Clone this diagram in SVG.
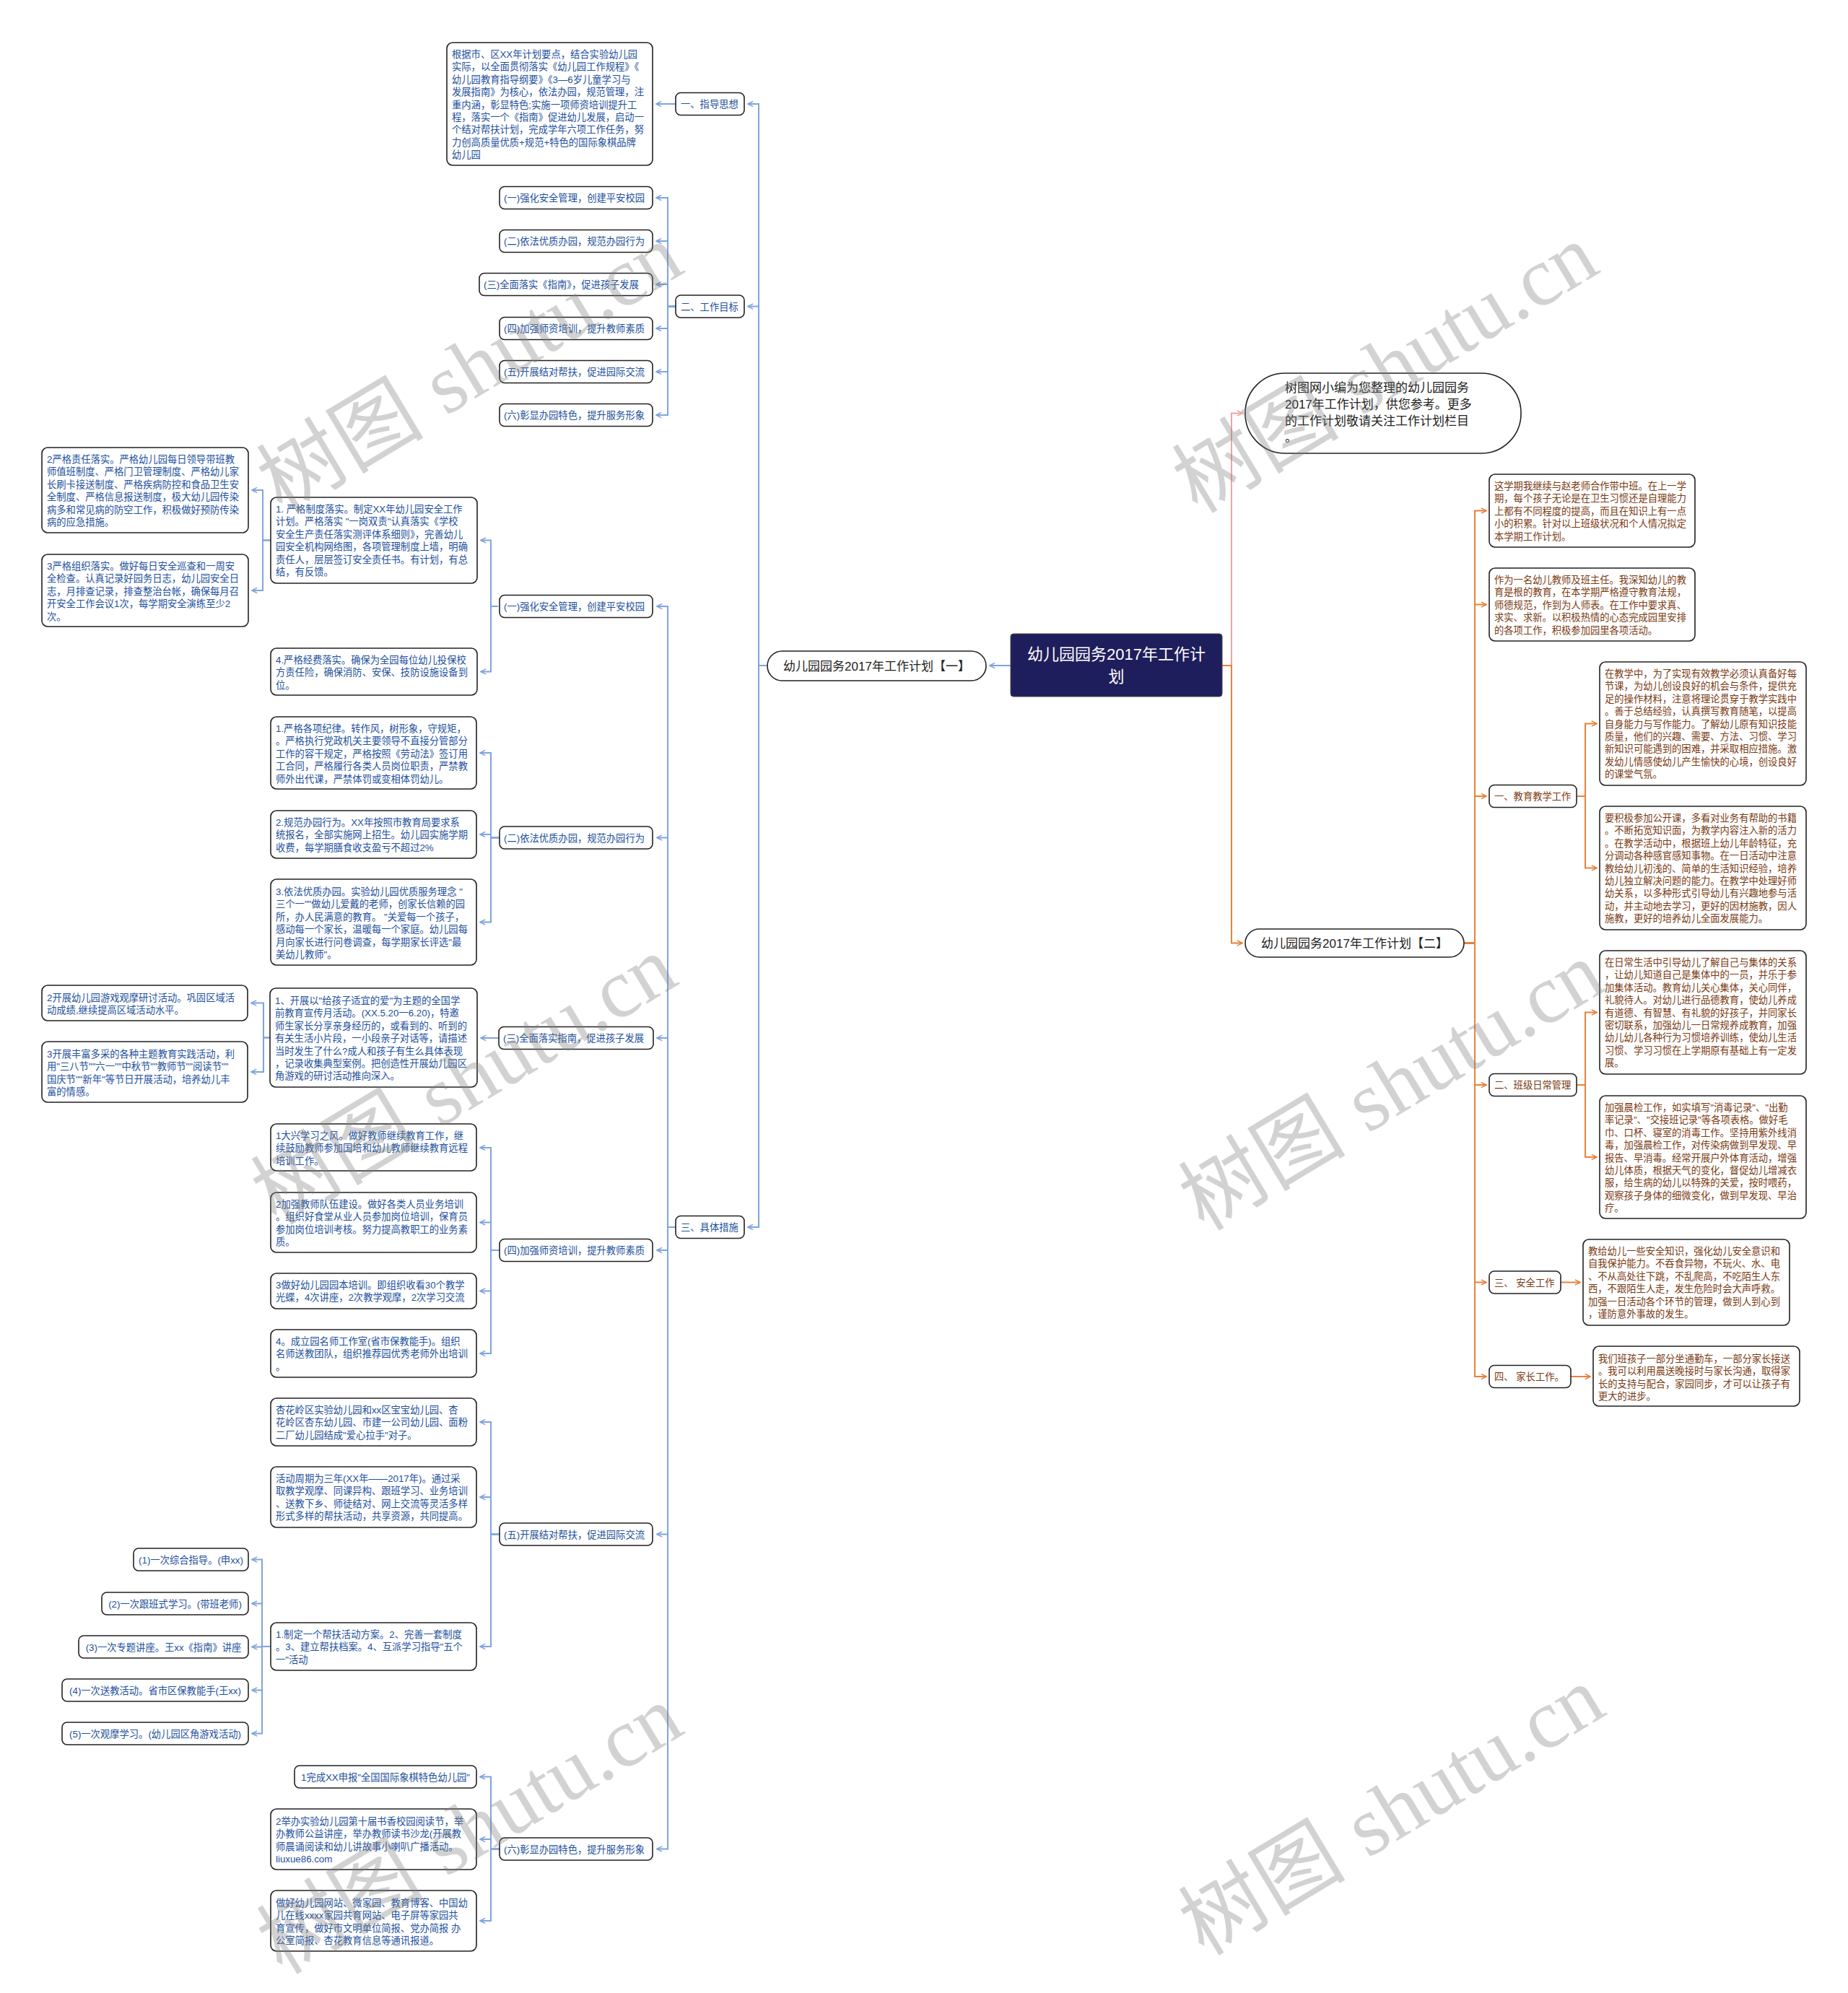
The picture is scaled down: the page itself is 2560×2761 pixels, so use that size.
<svg xmlns="http://www.w3.org/2000/svg" width="2560" height="2761" viewBox="0 0 2560 2761">
<defs>
<style>
text{font-family:"Liberation Sans","Noto Sans CJK SC",sans-serif}
.bx{fill:#fff;stroke:#222;stroke-width:1.6}
.tb{fill:#22509c;font-size:13.3px}
.tr{fill:#7a3a12;font-size:13.3px}
.lb{fill:none;stroke:#80a4dc;stroke-width:2;marker-end:url(#ab)}
.lo{fill:none;stroke:#e8823a;stroke-width:2;marker-end:url(#ao)}
.lp{fill:none;stroke:#f2a2a2;stroke-width:2;marker-end:url(#ap)}
.wm{font-size:116px;fill:#808080;opacity:0.35}
.wm tspan.l{font-family:"Liberation Serif",serif}
</style>
<marker id="ab" viewBox="0 0 10 10" refX="9" refY="5" markerWidth="9" markerHeight="9" markerUnits="userSpaceOnUse" orient="auto"><path d="M1,1 L9,5 L1,9" fill="none" stroke="#80a4dc" stroke-width="1.8"/></marker>
<marker id="ao" viewBox="0 0 10 10" refX="9" refY="5" markerWidth="9" markerHeight="9" markerUnits="userSpaceOnUse" orient="auto"><path d="M1,1 L9,5 L1,9" fill="none" stroke="#e8823a" stroke-width="1.8"/></marker>
<marker id="ap" viewBox="0 0 10 10" refX="9" refY="5" markerWidth="9" markerHeight="9" markerUnits="userSpaceOnUse" orient="auto"><path d="M1,1 L9,5 L1,9" fill="none" stroke="#f2a2a2" stroke-width="1.8"/></marker>
</defs>
<rect width="2560" height="2761" fill="#fff"/>

<g id="connectors">
<path class="lb" d="M1400,922 H1371"/>
<path class="lb" d="M1063,922 H1051 V144 H1036"/>
<path class="lb" d="M1063,922 H1051 V424.5 H1036"/>
<path class="lb" d="M1063,922 H1051 V1700 H1036"/>
<path class="lb" d="M936,144 H909"/>
<path class="lb" d="M936,424.5 H925 V274 H909"/>
<path class="lb" d="M936,424.5 H925 V334 H909"/>
<path class="lb" d="M936,424.5 H925 V394 H909"/>
<path class="lb" d="M936,424.5 H925 V455 H909"/>
<path class="lb" d="M936,424.5 H925 V515 H909"/>
<path class="lb" d="M936,424.5 H925 V575 H909"/>
<path class="lb" d="M936,1700 H925 V840 H910"/>
<path class="lb" d="M936,1700 H925 V1160.5 H910"/>
<path class="lb" d="M936,1700 H925 V1438 H910"/>
<path class="lb" d="M936,1700 H925 V1732 H910"/>
<path class="lb" d="M936,1700 H925 V2125.5 H910"/>
<path class="lb" d="M936,1700 H925 V2561.5 H910"/>
<path class="lb" d="M690,840 H680 V748.5 H666"/>
<path class="lb" d="M690,840 H680 V930.5 H666"/>
<path class="lb" d="M375,748.5 H364 V679 H349"/>
<path class="lb" d="M375,748.5 H364 V818 H349"/>
<path class="lb" d="M692,1160.5 H680 V1043 H665"/>
<path class="lb" d="M692,1160.5 H680 V1156 H665"/>
<path class="lb" d="M692,1160.5 H680 V1277.5 H665"/>
<path class="lb" d="M691,1438 H666"/>
<path class="lb" d="M374,1437.5 H365 V1389.5 H348"/>
<path class="lb" d="M374,1437.5 H365 V1485 H348"/>
<path class="lb" d="M692,1732 H680 V1590 H665"/>
<path class="lb" d="M692,1732 H680 V1693.5 H665"/>
<path class="lb" d="M692,1732 H680 V1788.5 H665"/>
<path class="lb" d="M692,1732 H680 V1875 H665"/>
<path class="lb" d="M692,2125.5 H680 V1970 H665"/>
<path class="lb" d="M692,2125.5 H680 V2074 H665"/>
<path class="lb" d="M692,2125.5 H680 V2281 H665"/>
<path class="lb" d="M375,2281 H363 V2160.5 H349"/>
<path class="lb" d="M375,2281 H363 V2221.5 H349"/>
<path class="lb" d="M375,2281 H363 V2281.5 H349"/>
<path class="lb" d="M375,2281 H363 V2341.5 H349"/>
<path class="lb" d="M375,2281 H363 V2401.5 H349"/>
<path class="lb" d="M692,2561.5 H680 V2461.5 H665"/>
<path class="lb" d="M692,2561.5 H680 V2548 H665"/>
<path class="lb" d="M692,2561.5 H680 V2661 H665"/>

<path class="lp" d="M1693,922 H1706 V572.5 H1721"/>
<path class="lo" d="M1693,922 H1706 V1306.5 H1721"/>
<path class="lo" d="M2028,1306.5 H2043 V707.5 H2059"/>
<path class="lo" d="M2028,1306.5 H2043 V837.5 H2059"/>
<path class="lo" d="M2028,1306.5 H2043 V1103 H2059"/>
<path class="lo" d="M2028,1306.5 H2043 V1503 H2059"/>
<path class="lo" d="M2028,1306.5 H2043 V1776.5 H2059"/>
<path class="lo" d="M2028,1306.5 H2043 V1907 H2059"/>
<path class="lo" d="M2184,1103 H2196 V1002.5 H2212"/>
<path class="lo" d="M2184,1103 H2196 V1202.5 H2212"/>
<path class="lo" d="M2184,1503 H2196 V1402.5 H2212"/>
<path class="lo" d="M2184,1503 H2196 V1603 H2212"/>
<path class="lo" d="M2162,1776.5 H2189"/>
<path class="lo" d="M2176,1907 H2203"/>
</g>

<g id="root">
<rect x="1400" y="878" width="293" height="87" rx="4" fill="#1f1e5c" stroke="#444" stroke-width="1"/>
<text x="1546.5" y="914" text-anchor="middle" fill="#fff" font-size="22">幼儿园园务2017年工作计</text>
<text x="1546.5" y="945" text-anchor="middle" fill="#fff" font-size="22">划</text>
</g>

<g id="plan1">
<rect class="bx" x="1063" y="902" width="303" height="41" rx="20.5"/>
<text x="1214.5" y="928.5" text-anchor="middle" fill="#222" font-size="17">幼儿园园务2017年工作计划【一】</text>
</g>

<g id="plan2">
<rect class="bx" x="1725" y="1287" width="303" height="39" rx="19.5"/>
<text x="1876.5" y="1312.5" text-anchor="middle" fill="#222" font-size="17">幼儿园园务2017年工作计划【二】</text>
</g>

<g id="note">
<rect class="bx" x="1725" y="517" width="382" height="111" rx="55"/>
<text fill="#222" font-size="17"><tspan x="1780" y="543">树图网小编为您整理的幼儿园园务</tspan><tspan x="1780" y="566">2017年工作计划，供您参考。更多</tspan><tspan x="1780" y="589">的工作计划敬请关注工作计划栏目</tspan><tspan x="1780" y="612">。</tspan></text>
</g>

<g id="s1">
<rect class="bx" x="936" y="128.5" width="95" height="31" rx="7"/>
<text class="tb" x="943" y="149">一、指导思想</text>
</g>
<g id="s1-text">
<rect class="bx" x="619" y="59" width="285" height="170" rx="8"/>
<text class="tb"><tspan x="626" y="80">根据市、区XX年计划要点，结合实验幼儿园</tspan><tspan x="626" y="97.4">实际，以全面贯彻落实《幼儿园工作规程》《</tspan><tspan x="626" y="114.8">幼儿园教育指导纲要》《3—6岁儿童学习与</tspan><tspan x="626" y="132.2">发展指南》为核心，依法办园，规范管理，注</tspan><tspan x="626" y="149.6">重内涵，彰显特色;实施一项师资培训提升工</tspan><tspan x="626" y="167">程，落实一个《指南》促进幼儿发展，启动一</tspan><tspan x="626" y="184.4">个结对帮扶计划，完成学年六项工作任务，努</tspan><tspan x="626" y="201.8">力创高质量优质+规范+特色的国际象棋品牌</tspan><tspan x="626" y="219.2">幼儿园</tspan></text>
</g>

<g id="s2">
<rect class="bx" x="936" y="409" width="95" height="31" rx="7"/>
<text class="tb" x="943" y="429.5">二、工作目标</text>
</g>
<g id="g1"><rect class="bx" x="692" y="258.5" width="212" height="31" rx="7"/><text class="tb" x="698" y="279">(一)强化安全管理，创建平安校园</text></g>
<g id="g2"><rect class="bx" x="692" y="318.5" width="212" height="31" rx="7"/><text class="tb" x="698" y="339">(二)依法优质办园，规范办园行为</text></g>
<g id="g3"><rect class="bx" x="664" y="378.5" width="240" height="31" rx="7"/><text class="tb" x="670" y="399">(三)全面落实《指南》，促进孩子发展</text></g>
<g id="g4"><rect class="bx" x="692" y="439.5" width="212" height="31" rx="7"/><text class="tb" x="698" y="460">(四)加强师资培训，提升教师素质</text></g>
<g id="g5"><rect class="bx" x="692" y="499.5" width="212" height="31" rx="7"/><text class="tb" x="698" y="520">(五)开展结对帮扶，促进园际交流</text></g>
<g id="g6"><rect class="bx" x="692" y="559.5" width="212" height="31" rx="7"/><text class="tb" x="698" y="580">(六)彰显办园特色，提升服务形象</text></g>

<g id="s3">
<rect class="bx" x="936" y="1684.5" width="95" height="31" rx="7"/>
<text class="tb" x="943" y="1705">三、具体措施</text>
</g>

<g id="m1"><rect class="bx" x="692" y="824.5" width="212" height="31" rx="7"/><text class="tb" x="698" y="845">(一)强化安全管理，创建平安校园</text></g>
<g id="m1a">
<rect class="bx" x="375" y="689" width="286" height="119" rx="8"/>
<text class="tb"><tspan x="382" y="710">1. 严格制度落实。制定XX年幼儿园安全工作</tspan><tspan x="382" y="727.4">计划。严格落实 "一岗双责"认真落实《学校</tspan><tspan x="382" y="744.8">安全生产责任落实测评体系细则》，完善幼儿</tspan><tspan x="382" y="762.2">园安全机构网络图，各项管理制度上墙，明确</tspan><tspan x="382" y="779.6">责任人，层层签订安全责任书。有计划，有总</tspan><tspan x="382" y="797">结，有反馈。</tspan></text>
</g>
<g id="m1a1">
<rect class="bx" x="58" y="620" width="286" height="118" rx="8"/>
<text class="tb"><tspan x="65" y="641">2严格责任落实。严格幼儿园每日领导带班教</tspan><tspan x="65" y="658.4">师值班制度、严格门卫管理制度、严格幼儿家</tspan><tspan x="65" y="675.8">长刷卡接送制度、严格疾病防控和食品卫生安</tspan><tspan x="65" y="693.2">全制度、严格信息报送制度，极大幼儿园传染</tspan><tspan x="65" y="710.6">病多和常见病的防空工作，积极做好预防传染</tspan><tspan x="65" y="728">病的应急措施。</tspan></text>
</g>
<g id="m1a2">
<rect class="bx" x="58" y="768" width="286" height="100" rx="8"/>
<text class="tb"><tspan x="65" y="789">3严格组织落实。做好每日安全巡查和一周安</tspan><tspan x="65" y="806.4">全检查。认真记录好园务日志，幼儿园安全日</tspan><tspan x="65" y="823.8">志，月排查记录，排查整治台帐，确保每月召</tspan><tspan x="65" y="841.2">开安全工作会议1次，每学期安全演练至少2</tspan><tspan x="65" y="858.6">次。</tspan></text>
</g>
<g id="m1b">
<rect class="bx" x="375" y="898" width="286" height="65" rx="8"/>
<text class="tb"><tspan x="382" y="919">4.严格经费落实。确保为全园每位幼儿投保校</tspan><tspan x="382" y="936.4">方责任险，确保消防、安保、技防设施设备到</tspan><tspan x="382" y="953.8">位。</tspan></text>
</g>

<g id="m2"><rect class="bx" x="692" y="1145" width="212" height="31" rx="7"/><text class="tb" x="698" y="1165.5">(二)依法优质办园，规范办园行为</text></g>
<g id="m2a">
<rect class="bx" x="375" y="993" width="285" height="100" rx="8"/>
<text class="tb"><tspan x="382" y="1014">1.严格各项纪律。转作风，树形象，守规矩，</tspan><tspan x="382" y="1031.4">。严格执行党政机关主要领导不直接分管部分</tspan><tspan x="382" y="1048.8">工作的容干规定，严格按照《劳动法》签订用</tspan><tspan x="382" y="1066.2">工合同，严格履行各类人员岗位职责，严禁教</tspan><tspan x="382" y="1083.6">师外出代课，严禁体罚或变相体罚幼儿。</tspan></text>
</g>
<g id="m2b">
<rect class="bx" x="375" y="1123" width="285" height="66" rx="8"/>
<text class="tb"><tspan x="382" y="1144">2.规范办园行为。XX年按照市教育局要求系</tspan><tspan x="382" y="1161.4">统报名，全部实施网上招生。幼儿园实施学期</tspan><tspan x="382" y="1178.8">收费，每学期膳食收支盈亏不超过2%</tspan></text>
</g>
<g id="m2c">
<rect class="bx" x="375" y="1218" width="285" height="119" rx="8"/>
<text class="tb"><tspan x="382" y="1240">3.依法优质办园。实验幼儿园优质服务理念 "</tspan><tspan x="382" y="1257.4">三个一""做幼儿爱戴的老师，创家长信赖的园</tspan><tspan x="382" y="1274.8">所，办人民满意的教育。 "关爱每一个孩子，</tspan><tspan x="382" y="1292.2">感动每一个家长，温暖每一个家庭。幼儿园每</tspan><tspan x="382" y="1309.6">月向家长进行问卷调查，每学期家长评选"最</tspan><tspan x="382" y="1327">美幼儿教师"。</tspan></text>
</g>

<g id="m3"><rect class="bx" x="691" y="1422.5" width="214" height="31" rx="7"/><text class="tb" x="697" y="1443">(三)全面落实指南，促进孩子发展</text></g>
<g id="m3a">
<rect class="bx" x="374" y="1369" width="287" height="137" rx="8"/>
<text class="tb"><tspan x="381" y="1391">1、开展以"给孩子适宜的爱"为主题的全国学</tspan><tspan x="381" y="1408.4">前教育宣传月活动。(XX.5.20一6.20)，特邀</tspan><tspan x="381" y="1425.8">师生家长分享亲身经历的，或看到的、听到的</tspan><tspan x="381" y="1443.2">有关生活小片段，一小段亲子对话等，请描述</tspan><tspan x="381" y="1460.6">当时发生了什么?成人和孩子有生么具体表现</tspan><tspan x="381" y="1478">，记录收集典型案例。把创造性开展幼儿园区</tspan><tspan x="381" y="1495.4">角游戏的研讨活动推向深入。</tspan></text>
</g>
<g id="m3a1">
<rect class="bx" x="58" y="1365" width="285" height="49" rx="8"/>
<text class="tb"><tspan x="65" y="1387">2开展幼儿园游戏观摩研讨活动。巩固区域活</tspan><tspan x="65" y="1404.4">动成绩,继续提高区域活动水平。</tspan></text>
</g>
<g id="m3a2">
<rect class="bx" x="58" y="1443" width="285" height="84" rx="8"/>
<text class="tb"><tspan x="65" y="1465">3开展丰富多采的各种主题教育实践活动，利</tspan><tspan x="65" y="1482.4">用"三八节""六一""中秋节""教师节""阅读节""</tspan><tspan x="65" y="1499.8">国庆节""新年"等节日开展活动，培养幼儿丰</tspan><tspan x="65" y="1517.2">富的情感。</tspan></text>
</g>

<g id="m4"><rect class="bx" x="692" y="1716.5" width="212" height="31" rx="7"/><text class="tb" x="698" y="1737">(四)加强师资培训，提升教师素质</text></g>
<g id="m4a">
<rect class="bx" x="375" y="1557" width="285" height="65" rx="8"/>
<text class="tb"><tspan x="382" y="1578">1大兴学习之风。做好教师继续教育工作，继</tspan><tspan x="382" y="1595.4">续鼓励教师参加国培和幼儿教师继续教育远程</tspan><tspan x="382" y="1612.8">培训工作。</tspan></text>
</g>
<g id="m4b">
<rect class="bx" x="375" y="1652" width="285" height="83" rx="8"/>
<text class="tb"><tspan x="382" y="1673">2加强教师队伍建设。做好各类人员业务培训</tspan><tspan x="382" y="1690.4">。组织好食堂从业人员参加岗位培训，保育员</tspan><tspan x="382" y="1707.8">参加岗位培训考核。努力提高教职工的业务素</tspan><tspan x="382" y="1725.2">质。</tspan></text>
</g>
<g id="m4c">
<rect class="bx" x="375" y="1764" width="285" height="49" rx="8"/>
<text class="tb"><tspan x="382" y="1785">3做好幼儿园园本培训。即组织收看30个教学</tspan><tspan x="382" y="1802.4">光蝶，4次讲座，2次教学观摩，2次学习交流</tspan></text>
</g>
<g id="m4d">
<rect class="bx" x="375" y="1842" width="285" height="66" rx="8"/>
<text class="tb"><tspan x="382" y="1863">4。成立园名师工作室(省市保教能手)。组织</tspan><tspan x="382" y="1880.4">名师送教团队，组织推荐园优秀老师外出培训</tspan><tspan x="382" y="1897.8">。</tspan></text>
</g>

<g id="m5"><rect class="bx" x="692" y="2110" width="212" height="31" rx="7"/><text class="tb" x="698" y="2130.5">(五)开展结对帮扶，促进园际交流</text></g>
<g id="m5a">
<rect class="bx" x="375" y="1937" width="285" height="66" rx="8"/>
<text class="tb"><tspan x="382" y="1958">杏花岭区实验幼儿园和xx区宝宝幼儿园、杏</tspan><tspan x="382" y="1975.4">花岭区杏东幼儿园、市建一公司幼儿园、面粉</tspan><tspan x="382" y="1992.8">二厂幼儿园结成"爱心拉手"对子。</tspan></text>
</g>
<g id="m5b">
<rect class="bx" x="375" y="2032" width="285" height="84" rx="8"/>
<text class="tb"><tspan x="382" y="2053">活动周期为三年(XX年——2017年)。通过采</tspan><tspan x="382" y="2070.4">取教学观摩、同课异构、跟班学习、业务培训</tspan><tspan x="382" y="2087.8">、送教下乡、师徒结对、网上交流等灵活多样</tspan><tspan x="382" y="2105.2">形式多样的帮扶活动，共享资源，共同提高。</tspan></text>
</g>
<g id="m5c">
<rect class="bx" x="375" y="2248" width="285" height="66" rx="8"/>
<text class="tb"><tspan x="382" y="2269">1.制定一个帮扶活动方案。2、完善一套制度</tspan><tspan x="382" y="2286.4">。3、建立帮扶档案。4、互派学习指导"五个</tspan><tspan x="382" y="2303.8">一"活动</tspan></text>
</g>
<g id="m5c1"><rect class="bx" x="185" y="2145" width="159" height="31" rx="7"/><text class="tb" x="264.5" y="2165.5" text-anchor="middle">(1)一次综合指导。(申xx)</text></g>
<g id="m5c2"><rect class="bx" x="141" y="2206" width="203" height="31" rx="7"/><text class="tb" x="242.5" y="2226.5" text-anchor="middle">(2)一次跟班式学习。(带班老师)</text></g>
<g id="m5c3"><rect class="bx" x="109" y="2266" width="235" height="31" rx="7"/><text class="tb" x="226.5" y="2286.5" text-anchor="middle">(3)一次专题讲座。王xx《指南》讲座</text></g>
<g id="m5c4"><rect class="bx" x="86" y="2326" width="258" height="31" rx="7"/><text class="tb" x="215" y="2346.5" text-anchor="middle">(4)一次送教活动。省市区保教能手(王xx)</text></g>
<g id="m5c5"><rect class="bx" x="86" y="2386" width="258" height="31" rx="7"/><text class="tb" x="215" y="2406.5" text-anchor="middle">(5)一次观摩学习。(幼儿园区角游戏活动)</text></g>

<g id="m6"><rect class="bx" x="692" y="2546" width="212" height="31" rx="7"/><text class="tb" x="698" y="2566.5">(六)彰显办园特色，提升服务形象</text></g>
<g id="m6a"><rect class="bx" x="408" y="2446" width="252" height="31" rx="7"/><text class="tb" x="534" y="2466.5" text-anchor="middle">1完成XX申报"全国国际象棋特色幼儿园"</text></g>
<g id="m6b">
<rect class="bx" x="375" y="2506" width="285" height="84" rx="8"/>
<text class="tb"><tspan x="382" y="2528">2举办实验幼儿园第十届书香校园阅读节，举</tspan><tspan x="382" y="2545.4">办教师公益讲座，举办教师读书沙龙(开展教</tspan><tspan x="382" y="2562.8">师晨诵阅读和幼儿讲故事小喇叭广播活动。</tspan><tspan x="382" y="2580.2">liuxue86.com</tspan></text>
</g>
<g id="m6c">
<rect class="bx" x="375" y="2619" width="285" height="84" rx="8"/>
<text class="tb"><tspan x="382" y="2641">做好幼儿园网站、微家园、教育博客、中国幼</tspan><tspan x="382" y="2658.4">儿在线xxxx家园共育网站、电子屏等家园共</tspan><tspan x="382" y="2675.8">育宣传，做好市文明单位简报、党办简报 办</tspan><tspan x="382" y="2693.2">公室简报、杏花教育信息等通讯报道。</tspan></text>
</g>

<g id="r-intro1">
<rect class="bx" x="2063" y="657" width="285" height="101" rx="8"/>
<text class="tr"><tspan x="2070" y="678">这学期我继续与赵老师合作带中班。在上一学</tspan><tspan x="2070" y="695.4">期，每个孩子无论是在卫生习惯还是自理能力</tspan><tspan x="2070" y="712.8">上都有不同程度的提高，而且在知识上有一点</tspan><tspan x="2070" y="730.2">小的积累。针对以上班级状况和个人情况拟定</tspan><tspan x="2070" y="747.6">本学期工作计划。</tspan></text>
</g>
<g id="r-intro2">
<rect class="bx" x="2063" y="787" width="285" height="101" rx="8"/>
<text class="tr"><tspan x="2070" y="808">作为一名幼儿教师及班主任。我深知幼儿的教</tspan><tspan x="2070" y="825.4">育是根的教育，在本学期严格遵守教育法规，</tspan><tspan x="2070" y="842.8">师德规范，作到为人师表。在工作中要求真、</tspan><tspan x="2070" y="860.2">求实、求新。以积极热情的心态完成园里安排</tspan><tspan x="2070" y="877.6">的各项工作，积极参加园里各项活动。</tspan></text>
</g>

<g id="r1"><rect class="bx" x="2063" y="1087.5" width="121" height="31" rx="7"/><text class="tr" x="2070" y="1108">一、教育教学工作</text></g>
<g id="r1a">
<rect class="bx" x="2216" y="917" width="286" height="171" rx="8"/>
<text class="tr"><tspan x="2223" y="938">在教学中，为了实现有效教学必须认真备好每</tspan><tspan x="2223" y="955.4">节课，为幼儿创设良好的机会与条件，提供充</tspan><tspan x="2223" y="972.8">足的操作材料，注意将理论贯穿于教学实践中</tspan><tspan x="2223" y="990.2">。善于总结经验，认真撰写教育随笔，以提高</tspan><tspan x="2223" y="1007.6">自身能力与写作能力。了解幼儿原有知识技能</tspan><tspan x="2223" y="1025">质量，他们的兴趣、需要、方法、习惯、学习</tspan><tspan x="2223" y="1042.4">新知识可能遇到的困难，并采取相应措施。激</tspan><tspan x="2223" y="1059.8">发幼儿情感使幼儿产生愉快的心境，创设良好</tspan><tspan x="2223" y="1077.2">的课堂气氛。</tspan></text>
</g>
<g id="r1b">
<rect class="bx" x="2216" y="1117" width="286" height="171" rx="8"/>
<text class="tr"><tspan x="2223" y="1138">要积极参加公开课，多看对业务有帮助的书籍</tspan><tspan x="2223" y="1155.4">。不断拓宽知识面，为教学内容注入新的活力</tspan><tspan x="2223" y="1172.8">。在教学活动中，根据班上幼儿年龄特征，充</tspan><tspan x="2223" y="1190.2">分调动各种感官感知事物。在一日活动中注意</tspan><tspan x="2223" y="1207.6">教给幼儿初浅的、简单的生活知识经验，培养</tspan><tspan x="2223" y="1225">幼儿独立解决问题的能力。在教学中处理好师</tspan><tspan x="2223" y="1242.4">幼关系，以多种形式引导幼儿有兴趣地参与活</tspan><tspan x="2223" y="1259.8">动，并主动地去学习，更好的因材施教，因人</tspan><tspan x="2223" y="1277.2">施教，更好的培养幼儿全面发展能力。</tspan></text>
</g>

<g id="r2"><rect class="bx" x="2063" y="1487.5" width="121" height="31" rx="7"/><text class="tr" x="2070" y="1508">二、班级日常管理</text></g>
<g id="r2a">
<rect class="bx" x="2216" y="1317" width="286" height="171" rx="8"/>
<text class="tr"><tspan x="2223" y="1338">在日常生活中引导幼儿了解自己与集体的关系</tspan><tspan x="2223" y="1355.4">，让幼儿知道自己是集体中的一员，并乐于参</tspan><tspan x="2223" y="1372.8">加集体活动。教育幼儿关心集体，关心同伴，</tspan><tspan x="2223" y="1390.2">礼貌待人。对幼儿进行品德教育，使幼儿养成</tspan><tspan x="2223" y="1407.6">有道德、有智慧、有礼貌的好孩子，并同家长</tspan><tspan x="2223" y="1425">密切联系，加强幼儿一日常规养成教育，加强</tspan><tspan x="2223" y="1442.4">幼儿幼儿各种行为习惯培养训练，使幼儿生活</tspan><tspan x="2223" y="1459.8">习惯、学习习惯在上学期原有基础上有一定发</tspan><tspan x="2223" y="1477.2">展。</tspan></text>
</g>
<g id="r2b">
<rect class="bx" x="2216" y="1518" width="286" height="170" rx="8"/>
<text class="tr"><tspan x="2223" y="1539">加强晨检工作，如实填写"消毒记录"、"出勤</tspan><tspan x="2223" y="1556.4">率记录"、"交接班记录"等各项表格。做好毛</tspan><tspan x="2223" y="1573.8">巾、口杯、寝室的消毒工作。坚持用紫外线消</tspan><tspan x="2223" y="1591.2">毒，加强晨检工作，对传染病做到早发现、早</tspan><tspan x="2223" y="1608.6">报告、早消毒。经常开展户外体育活动，增强</tspan><tspan x="2223" y="1626">幼儿体质，根据天气的变化，督促幼儿增减衣</tspan><tspan x="2223" y="1643.4">服，给生病的幼儿以特殊的关爱，按时喂药，</tspan><tspan x="2223" y="1660.8">观察孩子身体的细微变化，做到早发现、早治</tspan><tspan x="2223" y="1678.2">疗。</tspan></text>
</g>

<g id="r3"><rect class="bx" x="2063" y="1761" width="99" height="31" rx="7"/><text class="tr" x="2070" y="1781.5">三、 安全工作</text></g>
<g id="r3a">
<rect class="bx" x="2193" y="1717" width="286" height="119" rx="8"/>
<text class="tr"><tspan x="2200" y="1738">教给幼儿一些安全知识，强化幼儿安全意识和</tspan><tspan x="2200" y="1755.4">自我保护能力。不吞食异物，不玩火、水、电</tspan><tspan x="2200" y="1772.8">、不从高处往下跳，不乱爬高，不吃陌生人东</tspan><tspan x="2200" y="1790.2">西，不跟陌生人走，发生危险时会大声呼救。</tspan><tspan x="2200" y="1807.6">加强一日活动各个环节的管理，做到人到心到</tspan><tspan x="2200" y="1825">，谨防意外事故的发生。</tspan></text>
</g>

<g id="r4"><rect class="bx" x="2063" y="1891.5" width="113" height="31" rx="7"/><text class="tr" x="2070" y="1912">四、 家长工作。</text></g>
<g id="r4a">
<rect class="bx" x="2207" y="1865" width="286" height="83" rx="8"/>
<text class="tr"><tspan x="2214" y="1887">我们班孩子一部分坐通勤车，一部分家长接送</tspan><tspan x="2214" y="1904.4">。我可以利用晨送晚接时与家长沟通，取得家</tspan><tspan x="2214" y="1921.8">长的支持与配合，家园同步，才可以让孩子有</tspan><tspan x="2214" y="1939.2">更大的进步。</tspan></text>
</g>

<g id="watermarks">
<text class="wm" x="651" y="550" text-anchor="middle" transform="rotate(-31 651 511)">树图 <tspan class="l">shutu.cn</tspan></text>
<text class="wm" x="643" y="1536" text-anchor="middle" transform="rotate(-31 643 1497)">树图 <tspan class="l">shutu.cn</tspan></text>
<text class="wm" x="651" y="2574" text-anchor="middle" transform="rotate(-31 651 2535)">树图 <tspan class="l">shutu.cn</tspan></text>
<text class="wm" x="1919" y="550" text-anchor="middle" transform="rotate(-31 1919 511)">树图 <tspan class="l">shutu.cn</tspan></text>
<text class="wm" x="1928" y="1544" text-anchor="middle" transform="rotate(-31 1928 1505)">树图 <tspan class="l">shutu.cn</tspan></text>
<text class="wm" x="1928" y="2548" text-anchor="middle" transform="rotate(-31 1928 2509)">树图 <tspan class="l">shutu.cn</tspan></text>
</g>
</svg>
